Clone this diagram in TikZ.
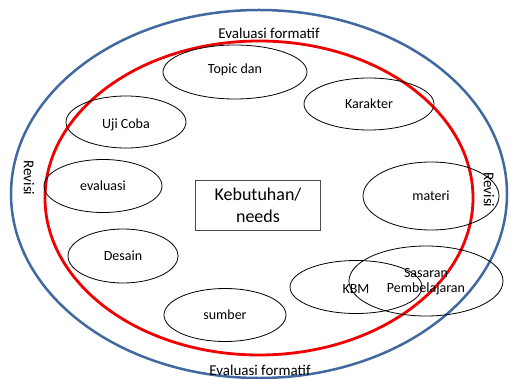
\documentclass[tikz,border=0pt]{standalone}
\usepackage{fontspec}
\setmainfont{Carlito}
\usetikzlibrary{shapes.geometric}
\definecolor{outerblue}{RGB}{65,105,160}
\definecolor{innerred}{RGB}{240,0,0}
\tikzset{
  itemfont/.style={font=\fontsize{14}{16}\selectfont},
  item/.style={draw=black, line width=0.8pt, ellipse, inner sep=0pt, itemfont, align=center},
  lbl/.style={font=\fontsize{15}{17}\selectfont, inner sep=0pt},
  needsbox/.style={draw=black!70, line width=0.8pt, rectangle, minimum width=125pt, minimum height=50pt, font=\fontsize{18}{22}\selectfont, align=center, inner sep=0pt}
}
\begin{document}
\begin{tikzpicture}[x=1pt, y=-1pt]
\useasboundingbox (0,0) rectangle (510,379);
% outer and inner rings
\draw[outerblue, line width=2.5pt] (259,194) ellipse [x radius=248, y radius=184];
\draw[innerred, line width=2.8pt] (259,198) ellipse [x radius=214, y radius=157];
% ring labels
\node[lbl] (evtop) at (269,33) {Evaluasi formatif};
\node[lbl] (evbot) at (260,370) {Evaluasi formatif};
\node[lbl, rotate=-90] (revl) at (29,178) {Revisi};
\node[lbl, rotate=-90] (revr) at (489,190) {Revisi};
% center box
\node[needsbox] (needs) at (258,205) {Kebutuhan/\\needs};
% items
\node[item, minimum width=144pt, minimum height=54pt] (topic) at (235,72) {};
\node[itemfont] (topict) at (235,70) {Topic dan};
\node[item, minimum width=130pt, minimum height=52pt] (karakter) at (369,104) {Karakter};
\node[item, minimum width=120pt, minimum height=52pt] (uji) at (126,122) {};
\node[itemfont] (ujit) at (126,125) {Uji Coba};
\node[item, minimum width=118pt, minimum height=53pt] (evaluasi) at (103,186) {evaluasi};
\node[item, minimum width=110pt, minimum height=54pt] (desain) at (123,256) {Desain};
\node[item, minimum width=122pt, minimum height=53pt] (sumber) at (225,315) {sumber};
\node[item, minimum width=136pt, minimum height=68pt] (materi) at (431,196) {materi};
\node[item, minimum width=132pt, minimum height=53pt] (kbm) at (356,287) {};
\node[item, minimum width=154pt, minimum height=70pt] (sasaran) at (426,281) {};
\node[itemfont] (kbmt) at (356,289) {KBM};
\node[itemfont, align=center] (sasarant) at (426,282) {Sasaran\\[-1pt]Pembelajaran};
\end{tikzpicture}
\end{document}
